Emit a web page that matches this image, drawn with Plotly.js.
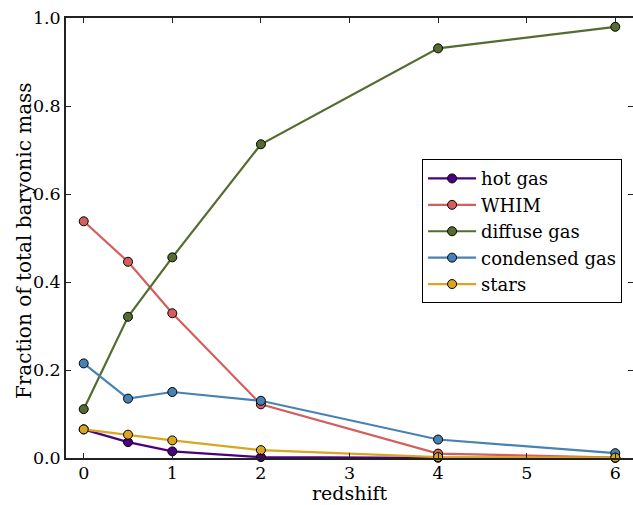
<!DOCTYPE html>
<html><head><meta charset="utf-8">
<script src="https://cdn.plot.ly/plotly-3.0.1.min.js"></script>
<style>html,body{margin:0;padding:0;overflow:hidden;background:#fff}</style>
</head><body><div id="chart" style="width:633px;height:505px"></div>
<script>
const redshift = [0, 0.5, 1, 2, 4, 6];
const hotGas = [0.065, 0.036, 0.015, 0.002, 0.0005, 0.0003];
const whim = [0.538, 0.446, 0.329, 0.122, 0.010, 0.001];
const diffuseGas = [0.111, 0.321, 0.456, 0.713, 0.931, 0.980];
const condensedGas = [0.215, 0.135, 0.150, 0.130, 0.042, 0.011];
const stars = [0.065, 0.053, 0.040, 0.018, 0.002, 0.001];
const seriesNames = ['hot gas', 'WHIM', 'diffuse gas', 'condensed gas', 'stars'];
const seriesColors = ['#4b0082', '#d45d5d', '#556b2f', '#4682b4', '#daa520'];
const seriesValues = [hotGas, whim, diffuseGas, condensedGas, stars];
const xTicks = [0, 1, 2, 3, 4, 5, 6];
const yTicks = [0, 0.2, 0.4, 0.6, 0.8, 1.0];
const xTitle = 'redshift';
const yTitle = 'Fraction of total baryonic mass';

const traces = seriesValues.map((vals, i) => ({
  x: redshift, y: vals, name: seriesNames[i], type: 'scatter', mode: 'lines+markers',
  line: {color: seriesColors[i], width: 2.2},
  marker: {color: seriesColors[i], size: 9, line: {color: '#000', width: 1}},
  cliponaxis: false
}));

const tickFont = {family: 'DejaVu Serif', size: 17.5, color: '#000'};
const titleFont = {family: 'DejaVu Serif', size: 20, color: '#000'};
const axisCommon = {
  showgrid: false, zeroline: false, showline: true, linecolor: '#222', linewidth: 1.5,
  mirror: 'ticks', ticks: 'inside', ticklen: 5, tickwidth: 1, tickcolor: '#222',
  tickfont: tickFont
};
const layout = {
  width: 633, height: 505,
  margin: {l: 66, r: 0, t: 18, b: 47},
  paper_bgcolor: '#fff', plot_bgcolor: '#fff',
  font: tickFont,
  showlegend: true,
  legend: {x: 0.628, y: 0.679, xanchor: 'left', yanchor: 'top',
    bordercolor: '#000', borderwidth: 1, bgcolor: '#fff', itemwidth: 48,
    font: {family: 'DejaVu Serif', size: 18, color: '#000'}},
  xaxis: Object.assign({}, axisCommon, {range: [-0.2, 6.2], tickvals: xTicks,
    ticktext: xTicks.map(String), ticklabelstandoff: -2}),
  yaxis: Object.assign({}, axisCommon, {range: [0, 1.0], tickvals: yTicks,
    ticktext: yTicks.map(v => v.toFixed(1))}),
  annotations: [
    {text: xTitle, xref: 'paper', yref: 'paper', x: 0.501, y: -0.1065,
     xanchor: 'center', yanchor: 'bottom', showarrow: false, borderpad: 0,
     font: {family: 'DejaVu Serif', size: 19, color: '#000'}},
    {text: yTitle, xref: 'paper', yref: 'paper', x: -0.074, y: 0.493, textangle: -90,
     xanchor: 'center', yanchor: 'middle', showarrow: false, font: titleFont}
  ]
};
Plotly.newPlot('chart', traces, layout, {displayModeBar: false});
</script></body></html>
